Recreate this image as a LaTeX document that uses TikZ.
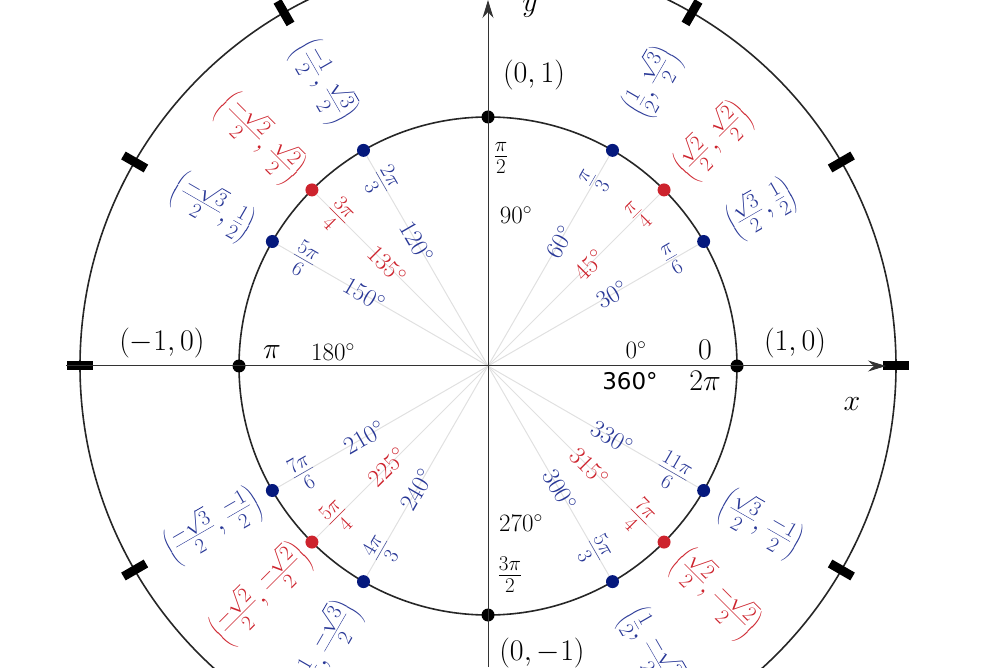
\RequirePackage{fix-cm}
\documentclass[tikz,border=0pt]{standalone}
\usepackage{fontspec}
\newfontfamily\dejavu{DejaVu Sans}
\usetikzlibrary{arrows.meta}
\definecolor{cb}{RGB}{40,55,150}
\definecolor{cr}{RGB}{205,35,45}
\definecolor{db}{RGB}{5,25,125}
\begin{document}
\begin{tikzpicture}[x=1pt,y=1pt,
  lab/.style={inner sep=0pt,font=\fontsize{30}{33}\selectfont},
  deg/.style={inner sep=0pt,font=\fontsize{25}{28}\selectfont},
  dot/.style={circle,fill=#1,inner sep=0pt,minimum size=13pt},
  ray/.style={draw=black!12,line width=1pt},
  tick/.style={fill=black,inner sep=0pt,minimum width=26pt,minimum height=9pt}]
\useasboundingbox (0,0) rectangle (1006,667);
\begin{scope}[shift={(488,301)}]
\coordinate (O) at (0,0);
\draw[line width=1.6pt,black!85] (O) circle (408);
\draw[line width=1.6pt,black!85] (O) circle (249);
\foreach \a in {0,30,...,330}{\node[tick,rotate=\a] (t\a) at (\a:408) {};}
\foreach \a/\c in {30/db,45/cr,60/db,120/db,135/cr,150/db,210/db,225/cr,240/db,300/db,315/cr,330/db}{
  \node[dot=\c] (p\a) at (\a:249) {};
  \draw[ray] (O) -- (p\a);
}
\foreach \a in {0,90,180,270}{\node[dot=black] (p\a) at (\a:249) {};}
\coordinate (xl) at (-422,0); \coordinate (xr) at (398,0);
\coordinate (yb) at (0,-301); \coordinate (yt) at (0,366);
\draw[line width=1pt,black!80,-{Stealth[length=18pt,width=11pt]}] (xl) -- (xr);
\draw[line width=1pt,black!80,-{Stealth[length=18pt,width=11pt]}] (yb) -- (yt);
\node[lab] (xlab) at (364,-38) {$x$};
\node[lab] (ylab) at (42,358) {$y$};
\node[lab] (c90) at (46,291) {$(0,1)$};
\node[lab] (r90) at (13,208) {$\frac{\pi}{2}$};
\node[deg] (d90) at (28,151) {$90^\circ$};
\node[lab] (c0) at (307,23) {$(1,0)$};
\node[lab] (r0) at (217,16) {$0$};
\node[deg] (d0) at (148,16) {$0^\circ$};
\node[inner sep=0pt,font=\dejavu\fontsize{23}{25}\selectfont] (d360) at (142,-15) {360°};
\node[lab] (r360) at (217,-15) {$2\pi$};
\node[lab] (c180) at (-326,23) {$(-1,0)$};
\node[lab] (r180) at (-216,14) {$\pi$};
\node[deg] (d180) at (-155,14) {$180^\circ$};
\node[deg] (d270) at (33,-157) {$270^\circ$};
\node[lab] (r270) at (22,-209) {$\frac{3\pi}{2}$};
\node[lab] (c270) at (54,-287) {$(0,-1)$};
\foreach \a/\c/\d/\r/\p/\rc in {
 30/cb/30/\frac{\pi}{6}/{\left(\frac{\sqrt{3}}{2},\frac{1}{2}\right)}/315,
 45/cr/45/\frac{\pi}{4}/{\left(\frac{\sqrt{2}}{2},\frac{\sqrt{2}}{2}\right)}/318,
 60/cb/60/\frac{\pi}{3}/{\left(\frac{1}{2},\frac{\sqrt{3}}{2}\right)}/328,
 120/cb/120/\frac{2\pi}{3}/{\left(\frac{-1}{2},\frac{\sqrt{3}}{2}\right)}/328,
 135/cr/135/\frac{3\pi}{4}/{\left(\frac{-\sqrt{2}}{2},\frac{\sqrt{2}}{2}\right)}/322,
 150/cb/150/\frac{5\pi}{6}/{\left(\frac{-\sqrt{3}}{2},\frac{1}{2}\right)}/318,
 210/cb/210/\frac{7\pi}{6}/{\left(\frac{-\sqrt{3}}{2},\frac{-1}{2}\right)}/318,
 225/cr/225/\frac{5\pi}{4}/{\left(\frac{-\sqrt{2}}{2},\frac{-\sqrt{2}}{2}\right)}/322,
 240/cb/240/\frac{4\pi}{3}/{\left(\frac{-1}{2},\frac{-\sqrt{3}}{2}\right)}/328,
 300/cb/300/\frac{5\pi}{3}/{\left(\frac{1}{2},\frac{-\sqrt{3}}{2}\right)}/328,
 315/cr/315/\frac{7\pi}{4}/{\left(\frac{\sqrt{2}}{2},\frac{-\sqrt{2}}{2}\right)}/322,
 330/cb/330/\frac{11\pi}{6}/{\left(\frac{\sqrt{3}}{2},\frac{-1}{2}\right)}/315}{
  \pgfmathsetmacro{\rot}{(\a>90 && \a<270) ? \a-180 : \a}
  \node[deg,text=\c,rotate=\rot] (d\a) at (\a:143) {$\d^\circ$};
  \node[lab,text=\c,rotate=\rot] (r\a) at (\a:213) {$\r$};
  \node[lab,text=\c,rotate=\rot] (c\a) at (\a:\rc) {$\p$};
}
\end{scope}
\end{tikzpicture}
\end{document}
